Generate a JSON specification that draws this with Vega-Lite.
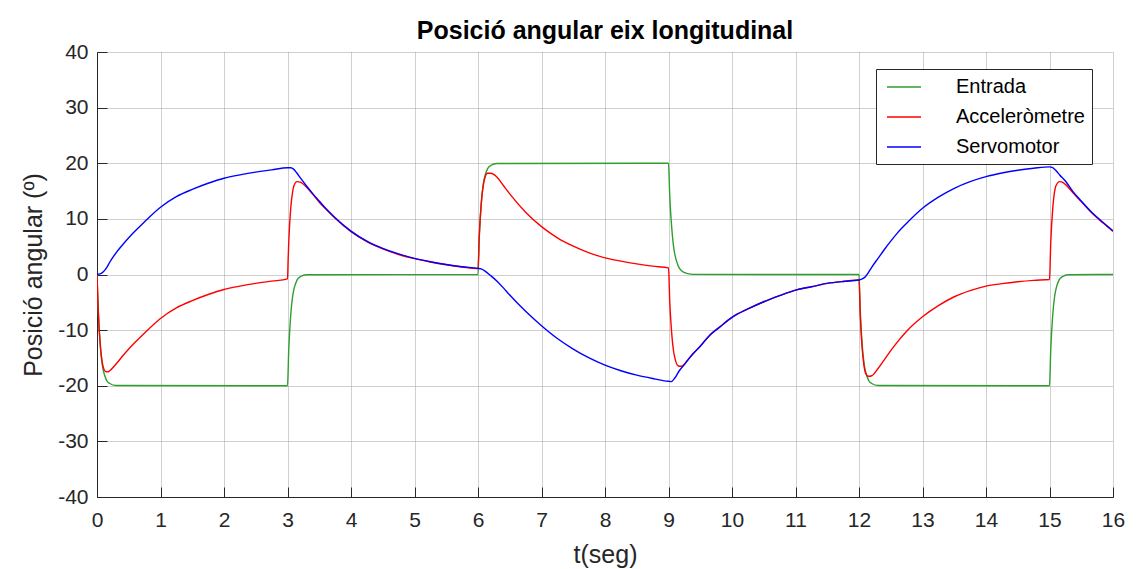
{
  "$schema": "https://vega.github.io/schema/vega-lite/v6.json",
  "width": 1016,
  "height": 445,
  "autosize": {"type": "none"},
  "padding": {"left": 97, "top": 52, "right": 26, "bottom": 72},
  "background": "#ffffff",
  "title": {"text": "Posició angular eix longitudinal", "fontSize": 25, "fontWeight": "bold", "color": "#000000", "offset": -3, "anchor": "middle", "font": "Liberation Sans"},
  "data": {"values": [
    {"s":"Entrada","t":0,"v":0},{"s":"Entrada","t":0.02,"v":-6.6},{"s":"Entrada","t":0.05,"v":-12.6},{"s":"Entrada","t":0.08,"v":-16.0},{"s":"Entrada","t":0.1,"v":-17.3},{"s":"Entrada","t":0.15,"v":-19.0},{"s":"Entrada","t":0.2,"v":-19.6},{"s":"Entrada","t":0.3,"v":-19.95},{"s":"Entrada","t":3.0,"v":-20},
    {"s":"Entrada","t":3.02,"v":-13.4},{"s":"Entrada","t":3.05,"v":-7.4},{"s":"Entrada","t":3.08,"v":-4.0},{"s":"Entrada","t":3.1,"v":-2.7},{"s":"Entrada","t":3.15,"v":-1.0},{"s":"Entrada","t":3.2,"v":-0.4},{"s":"Entrada","t":3.3,"v":-0.05},{"s":"Entrada","t":6.0,"v":0},
    {"s":"Entrada","t":6.02,"v":6.6},{"s":"Entrada","t":6.05,"v":12.6},{"s":"Entrada","t":6.08,"v":16.0},{"s":"Entrada","t":6.1,"v":17.3},{"s":"Entrada","t":6.15,"v":19.0},{"s":"Entrada","t":6.2,"v":19.6},{"s":"Entrada","t":6.3,"v":19.95},{"s":"Entrada","t":9.0,"v":20},
    {"s":"Entrada","t":9.02,"v":14.0},{"s":"Entrada","t":9.05,"v":8.5},{"s":"Entrada","t":9.08,"v":5.0},{"s":"Entrada","t":9.1,"v":3.6},{"s":"Entrada","t":9.15,"v":1.6},{"s":"Entrada","t":9.2,"v":0.7},{"s":"Entrada","t":9.3,"v":0.15},{"s":"Entrada","t":9.4,"v":0.02},{"s":"Entrada","t":12.0,"v":0},
    {"s":"Entrada","t":12.02,"v":-6.6},{"s":"Entrada","t":12.05,"v":-12.6},{"s":"Entrada","t":12.08,"v":-16.0},{"s":"Entrada","t":12.1,"v":-17.3},{"s":"Entrada","t":12.15,"v":-19.0},{"s":"Entrada","t":12.2,"v":-19.6},{"s":"Entrada","t":12.3,"v":-19.95},{"s":"Entrada","t":15.0,"v":-20},
    {"s":"Entrada","t":15.02,"v":-13.4},{"s":"Entrada","t":15.05,"v":-7.4},{"s":"Entrada","t":15.08,"v":-4.0},{"s":"Entrada","t":15.1,"v":-2.7},{"s":"Entrada","t":15.15,"v":-1.0},{"s":"Entrada","t":15.2,"v":-0.4},{"s":"Entrada","t":15.3,"v":-0.05},{"s":"Entrada","t":16.0,"v":0},

    {"s":"Acceleròmetre","t":0,"v":0},{"s":"Acceleròmetre","t":0.02,"v":-6.5},{"s":"Acceleròmetre","t":0.05,"v":-12.4},{"s":"Acceleròmetre","t":0.08,"v":-15.6},{"s":"Acceleròmetre","t":0.1,"v":-16.7},{"s":"Acceleròmetre","t":0.13,"v":-17.4},{"s":"Acceleròmetre","t":0.17,"v":-17.5},{"s":"Acceleròmetre","t":0.2,"v":-17.3},{"s":"Acceleròmetre","t":0.3,"v":-16.1},{"s":"Acceleròmetre","t":0.4,"v":-14.7},{"s":"Acceleròmetre","t":0.5,"v":-13.4},{"s":"Acceleròmetre","t":0.6,"v":-12.2},{"s":"Acceleròmetre","t":0.75,"v":-10.5},{"s":"Acceleròmetre","t":1.0,"v":-7.9},{"s":"Acceleròmetre","t":1.25,"v":-6.0},{"s":"Acceleròmetre","t":1.5,"v":-4.7},{"s":"Acceleròmetre","t":1.75,"v":-3.6},{"s":"Acceleròmetre","t":2.0,"v":-2.7},{"s":"Acceleròmetre","t":2.25,"v":-2.1},{"s":"Acceleròmetre","t":2.5,"v":-1.6},{"s":"Acceleròmetre","t":2.75,"v":-1.2},{"s":"Acceleròmetre","t":3.0,"v":-0.8},
    {"s":"Acceleròmetre","t":3.01,"v":2.7},{"s":"Acceleròmetre","t":3.02,"v":5.9},{"s":"Acceleròmetre","t":3.05,"v":11.8},{"s":"Acceleròmetre","t":3.08,"v":14.8},{"s":"Acceleròmetre","t":3.1,"v":15.9},{"s":"Acceleròmetre","t":3.15,"v":16.7},{"s":"Acceleròmetre","t":3.2,"v":16.6},{"s":"Acceleròmetre","t":3.3,"v":15.7},{"s":"Acceleròmetre","t":3.4,"v":14.4},{"s":"Acceleròmetre","t":3.5,"v":13.0},{"s":"Acceleròmetre","t":3.6,"v":11.8},{"s":"Acceleròmetre","t":3.75,"v":10.1},{"s":"Acceleròmetre","t":4.0,"v":7.7},{"s":"Acceleròmetre","t":4.25,"v":5.9},{"s":"Acceleròmetre","t":4.5,"v":4.6},{"s":"Acceleròmetre","t":4.75,"v":3.6},{"s":"Acceleròmetre","t":5.0,"v":2.85},{"s":"Acceleròmetre","t":5.25,"v":2.25},{"s":"Acceleròmetre","t":5.5,"v":1.75},{"s":"Acceleròmetre","t":5.75,"v":1.35},{"s":"Acceleròmetre","t":6.0,"v":1.05},
    {"s":"Acceleròmetre","t":6.02,"v":7.0},{"s":"Acceleròmetre","t":6.05,"v":12.6},{"s":"Acceleròmetre","t":6.08,"v":15.8},{"s":"Acceleròmetre","t":6.1,"v":17.0},{"s":"Acceleròmetre","t":6.15,"v":18.2},{"s":"Acceleròmetre","t":6.2,"v":18.2},{"s":"Acceleròmetre","t":6.3,"v":17.5},{"s":"Acceleròmetre","t":6.4,"v":16.0},{"s":"Acceleròmetre","t":6.5,"v":14.5},{"s":"Acceleròmetre","t":6.75,"v":11.2},{"s":"Acceleròmetre","t":7.0,"v":8.6},{"s":"Acceleròmetre","t":7.25,"v":6.6},{"s":"Acceleròmetre","t":7.5,"v":5.1},{"s":"Acceleròmetre","t":7.75,"v":3.9},{"s":"Acceleròmetre","t":8.0,"v":3.0},{"s":"Acceleròmetre","t":8.25,"v":2.4},{"s":"Acceleròmetre","t":8.5,"v":1.9},{"s":"Acceleròmetre","t":8.75,"v":1.5},{"s":"Acceleròmetre","t":9.0,"v":1.2},
    {"s":"Acceleròmetre","t":9.02,"v":-5.0},{"s":"Acceleròmetre","t":9.05,"v":-10.5},{"s":"Acceleròmetre","t":9.08,"v":-13.8},{"s":"Acceleròmetre","t":9.1,"v":-15.0},{"s":"Acceleròmetre","t":9.15,"v":-16.4},{"s":"Acceleròmetre","t":9.2,"v":-16.5},{"s":"Acceleròmetre","t":9.25,"v":-16.1},{"s":"Acceleròmetre","t":9.3,"v":-15.4},{"s":"Acceleròmetre","t":9.4,"v":-14.1},{"s":"Acceleròmetre","t":9.5,"v":-12.9},{"s":"Acceleròmetre","t":9.65,"v":-10.9},{"s":"Acceleròmetre","t":9.8,"v":-9.5},{"s":"Acceleròmetre","t":10.0,"v":-7.7},{"s":"Acceleròmetre","t":10.25,"v":-6.2},{"s":"Acceleròmetre","t":10.5,"v":-4.9},{"s":"Acceleròmetre","t":10.75,"v":-3.8},{"s":"Acceleròmetre","t":11.0,"v":-2.8},{"s":"Acceleròmetre","t":11.25,"v":-2.2},{"s":"Acceleròmetre","t":11.5,"v":-1.6},{"s":"Acceleròmetre","t":11.75,"v":-1.25},{"s":"Acceleròmetre","t":12.0,"v":-1.0},
    {"s":"Acceleròmetre","t":12.02,"v":-7.4},{"s":"Acceleròmetre","t":12.05,"v":-13.3},{"s":"Acceleròmetre","t":12.08,"v":-16.5},{"s":"Acceleròmetre","t":12.1,"v":-17.6},{"s":"Acceleròmetre","t":12.15,"v":-18.3},{"s":"Acceleròmetre","t":12.2,"v":-18.2},{"s":"Acceleròmetre","t":12.3,"v":-16.9},{"s":"Acceleròmetre","t":12.4,"v":-15.3},{"s":"Acceleròmetre","t":12.5,"v":-13.7},{"s":"Acceleròmetre","t":12.6,"v":-12.2},{"s":"Acceleròmetre","t":12.75,"v":-10.2},{"s":"Acceleròmetre","t":13.0,"v":-7.6},{"s":"Acceleròmetre","t":13.25,"v":-5.6},{"s":"Acceleròmetre","t":13.5,"v":-4.0},{"s":"Acceleròmetre","t":13.75,"v":-2.9},{"s":"Acceleròmetre","t":14.0,"v":-2.1},{"s":"Acceleròmetre","t":14.25,"v":-1.65},{"s":"Acceleròmetre","t":14.5,"v":-1.3},{"s":"Acceleròmetre","t":14.75,"v":-1.05},{"s":"Acceleròmetre","t":15.0,"v":-0.9},
    {"s":"Acceleròmetre","t":15.02,"v":5.8},{"s":"Acceleròmetre","t":15.05,"v":11.7},{"s":"Acceleròmetre","t":15.08,"v":14.9},{"s":"Acceleròmetre","t":15.1,"v":15.9},{"s":"Acceleròmetre","t":15.16,"v":16.7},{"s":"Acceleròmetre","t":15.2,"v":16.6},{"s":"Acceleròmetre","t":15.25,"v":16.2},{"s":"Acceleròmetre","t":15.37,"v":14.7},{"s":"Acceleròmetre","t":15.5,"v":13.1},{"s":"Acceleròmetre","t":15.68,"v":10.9},{"s":"Acceleròmetre","t":15.85,"v":9.2},{"s":"Acceleròmetre","t":16.0,"v":7.75},

    {"s":"Servomotor","t":0,"v":0},{"s":"Servomotor","t":0.05,"v":0.1},{"s":"Servomotor","t":0.1,"v":0.5},{"s":"Servomotor","t":0.15,"v":1.2},{"s":"Servomotor","t":0.2,"v":2.2},{"s":"Servomotor","t":0.3,"v":3.9},{"s":"Servomotor","t":0.4,"v":5.3},{"s":"Servomotor","t":0.5,"v":6.6},{"s":"Servomotor","t":0.6,"v":7.8},{"s":"Servomotor","t":0.75,"v":9.5},{"s":"Servomotor","t":1.0,"v":12.1},{"s":"Servomotor","t":1.25,"v":14.0},{"s":"Servomotor","t":1.5,"v":15.3},{"s":"Servomotor","t":1.75,"v":16.4},{"s":"Servomotor","t":2.0,"v":17.3},{"s":"Servomotor","t":2.25,"v":17.9},{"s":"Servomotor","t":2.5,"v":18.4},{"s":"Servomotor","t":2.75,"v":18.8},{"s":"Servomotor","t":3.0,"v":19.2},
    {"s":"Servomotor","t":3.05,"v":19.2},{"s":"Servomotor","t":3.1,"v":18.9},{"s":"Servomotor","t":3.15,"v":18.2},{"s":"Servomotor","t":3.2,"v":17.4},{"s":"Servomotor","t":3.3,"v":15.9},{"s":"Servomotor","t":3.4,"v":14.5},{"s":"Servomotor","t":3.5,"v":13.2},{"s":"Servomotor","t":3.6,"v":11.9},{"s":"Servomotor","t":3.75,"v":10.2},{"s":"Servomotor","t":4.0,"v":7.8},{"s":"Servomotor","t":4.25,"v":6.0},{"s":"Servomotor","t":4.5,"v":4.7},{"s":"Servomotor","t":4.75,"v":3.7},{"s":"Servomotor","t":5.0,"v":2.9},{"s":"Servomotor","t":5.25,"v":2.3},{"s":"Servomotor","t":5.5,"v":1.8},{"s":"Servomotor","t":5.75,"v":1.4},{"s":"Servomotor","t":6.0,"v":1.1},
    {"s":"Servomotor","t":6.05,"v":1.0},{"s":"Servomotor","t":6.1,"v":0.7},{"s":"Servomotor","t":6.2,"v":-0.2},{"s":"Servomotor","t":6.3,"v":-1.2},{"s":"Servomotor","t":6.4,"v":-2.4},{"s":"Servomotor","t":6.5,"v":-3.7},{"s":"Servomotor","t":6.6,"v":-4.9},{"s":"Servomotor","t":6.75,"v":-6.6},{"s":"Servomotor","t":7.0,"v":-9.2},{"s":"Servomotor","t":7.25,"v":-11.5},{"s":"Servomotor","t":7.5,"v":-13.4},{"s":"Servomotor","t":7.75,"v":-15.0},{"s":"Servomotor","t":8.0,"v":-16.3},{"s":"Servomotor","t":8.25,"v":-17.3},{"s":"Servomotor","t":8.5,"v":-18.1},{"s":"Servomotor","t":8.75,"v":-18.7},{"s":"Servomotor","t":9.0,"v":-19.2},
    {"s":"Servomotor","t":9.04,"v":-19.25},{"s":"Servomotor","t":9.1,"v":-18.6},{"s":"Servomotor","t":9.17,"v":-17.3},{"s":"Servomotor","t":9.25,"v":-16.2},{"s":"Servomotor","t":9.38,"v":-14.3},{"s":"Servomotor","t":9.5,"v":-12.9},{"s":"Servomotor","t":9.65,"v":-10.9},{"s":"Servomotor","t":9.8,"v":-9.5},{"s":"Servomotor","t":10.0,"v":-7.7},{"s":"Servomotor","t":10.25,"v":-6.2},{"s":"Servomotor","t":10.5,"v":-4.9},{"s":"Servomotor","t":10.75,"v":-3.8},{"s":"Servomotor","t":11.0,"v":-2.8},{"s":"Servomotor","t":11.25,"v":-2.2},{"s":"Servomotor","t":11.5,"v":-1.6},{"s":"Servomotor","t":11.75,"v":-1.25},{"s":"Servomotor","t":12.0,"v":-1.0},
    {"s":"Servomotor","t":12.05,"v":-0.8},{"s":"Servomotor","t":12.1,"v":-0.4},{"s":"Servomotor","t":12.15,"v":0.4},{"s":"Servomotor","t":12.2,"v":1.3},{"s":"Servomotor","t":12.3,"v":2.9},{"s":"Servomotor","t":12.4,"v":4.5},{"s":"Servomotor","t":12.5,"v":6.0},{"s":"Servomotor","t":12.6,"v":7.4},{"s":"Servomotor","t":12.75,"v":9.2},{"s":"Servomotor","t":13.0,"v":11.9},{"s":"Servomotor","t":13.25,"v":13.9},{"s":"Servomotor","t":13.5,"v":15.5},{"s":"Servomotor","t":13.75,"v":16.7},{"s":"Servomotor","t":14.0,"v":17.6},{"s":"Servomotor","t":14.25,"v":18.25},{"s":"Servomotor","t":14.5,"v":18.75},{"s":"Servomotor","t":14.75,"v":19.1},{"s":"Servomotor","t":15.0,"v":19.35},
    {"s":"Servomotor","t":15.05,"v":19.2},{"s":"Servomotor","t":15.1,"v":18.7},{"s":"Servomotor","t":15.16,"v":17.9},{"s":"Servomotor","t":15.25,"v":16.8},{"s":"Servomotor","t":15.37,"v":14.9},{"s":"Servomotor","t":15.5,"v":13.2},{"s":"Servomotor","t":15.68,"v":11.0},{"s":"Servomotor","t":15.85,"v":9.3},{"s":"Servomotor","t":16.0,"v":7.85}
  ]},
  "mark": {"type": "line", "interpolate": "monotone", "strokeWidth": 1.4, "clip": true},
  "encoding": {
    "x": {
      "field": "t", "type": "quantitative",
      "scale": {"domain": [0, 16], "nice": false, "zero": false},
      "axis": {"title": "t(seg)", "values": [0,1,2,3,4,5,6,7,8,9,10,11,12,13,14,15,16], "labelExpr": "'' + datum.value", "labelFlush": false}
    },
    "y": {
      "field": "v", "type": "quantitative",
      "scale": {"domain": [-40, 40], "nice": false, "zero": false},
      "axis": {"title": "Posició angular (º)", "values": [-40,-30,-20,-10,0,10,20,30,40], "labelExpr": "'' + datum.value", "labelFlush": false}
    },
    "color": {
      "field": "s", "type": "nominal",
      "scale": {"domain": ["Entrada", "Acceleròmetre", "Servomotor"], "range": ["#2e9e2e", "#ff0000", "#0000ff"]},
      "legend": {"orient": "none", "legendX": 779, "legendY": 17, "title": null, "symbolType": "M-0.7,0H2.7", "symbolSize": 400, "symbolStrokeWidth": 1.3, "labelFontSize": 20, "labelColor": "#000000", "strokeColor": "#262626", "fillColor": "#ffffff", "padding": 7, "rowPadding": 9, "labelOffset": 51}
    }
  },
  "config": {
    "font": "Liberation Sans",
    "view": {"stroke": null},
    "axis": {
      "grid": true, "gridColor": "#a0a0a0", "gridDash": [1, 1], "gridWidth": 1,
      "tickSize": -10, "tickColor": "#262626", "tickWidth": 1,
      "domainColor": "#262626", "domainWidth": 1,
      "labelColor": "#262626", "labelFontSize": 21, "labelFont": "Liberation Sans",
      "titleColor": "#262626", "titleFontSize": 25, "titleFontWeight": "normal", "titleFont": "Liberation Sans"
    },
    "axisX": {"labelPadding": 22, "titlePadding": 12},
    "axisY": {"labelPadding": 19, "titlePadding": 11}
  }
}
